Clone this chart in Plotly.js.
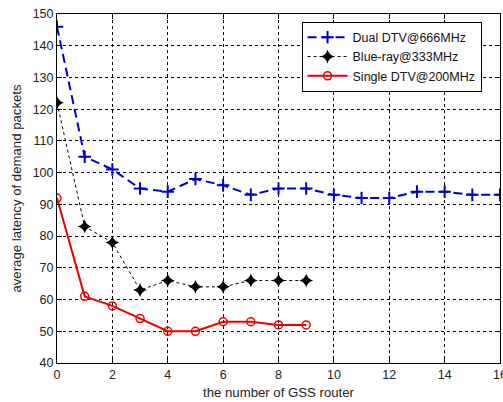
<!DOCTYPE html>
<html><head><meta charset="utf-8">
<script src="https://cdn.plot.ly/plotly-3.0.1.min.js"></script>
<style>html,body{margin:0;padding:0;background:#fff}#c{width:503px;height:402px}</style>
</head><body><div id="c"></div>
<script>
const xDual = [0,1,2,3,4,5,6,7,8,9,10,11,12,13,14,15,16];
const yDual = [146,105,101,95,94,98,96,93,95,95,93,92,92,94,94,93,93];
const xBlue = [0,1,2,3,4,5,6,7,8,9];
const yBlue = [122,83,78,63,66,64,64,66,66,66];
const xSingle = [0,1,2,3,4,5,6,7,8,9];
const ySingle = [92,61,58,54,50,50,53,53,52,52];
const names = ['Dual DTV@666MHz','Blue-ray@333MHz','Single DTV@200MHz'];
const xTicks = [0,2,4,6,8,10,12,14,16];
const yTicks = [40,50,60,70,80,90,100,110,120,130,140,150];

const traces = [
 {x:xDual,y:yDual,name:names[0],mode:'lines+markers',
  line:{color:'#0000cc',width:2,dash:'9px,5px'},
  marker:{symbol:'cross-thin-open',size:9,color:'#0000cc',line:{color:'#0000cc',width:2}}},
 {x:xBlue,y:yBlue,name:names[1],mode:'lines+markers',
  line:{color:'#000000',width:1,dash:'dot'},
  marker:{symbol:'star-diamond',size:10,color:'#000000'}},
 {x:xSingle,y:ySingle,name:names[2],mode:'lines+markers',
  line:{color:'#ee0000',width:2},
  marker:{symbol:'circle-open',size:8,color:'#ee0000',line:{color:'#ee0000',width:1.5}}}
];
const ax = {showline:true,linecolor:'#000',linewidth:1,mirror:'ticks',ticks:'inside',ticklen:5,tickcolor:'#000',
  showgrid:true,gridcolor:'#000',griddash:'dot',gridwidth:1,zeroline:false,automargin:false,
  ticklabeloverflow:'allow',
  tickfont:{family:'Liberation Sans, Arial, sans-serif',size:12.5,color:'#222'}};
const layout = {
 width:503,height:402,margin:{l:57,r:3,t:14,b:39},
 paper_bgcolor:'#fff',plot_bgcolor:'#fff',
 font:{family:'Liberation Sans, Arial, sans-serif',size:12,color:'#222'},
 xaxis:Object.assign({},ax,{range:[0,16],tickvals:xTicks,ticktext:xTicks.map(String),
   title:{text:'the number of GSS router',standoff:6,font:{size:13.2,color:'#222'}}}),
 yaxis:Object.assign({},ax,{range:[40,150],tickvals:yTicks,ticktext:yTicks.map(String),
   title:{text:'average latency of demand packets',standoff:8,font:{size:13.2,color:'#222'}}}),
 showlegend:true,
 legend:{x:0.552,y:0.978,xanchor:'left',yanchor:'top',bgcolor:'#fff',bordercolor:'#000',borderwidth:1,
   font:{size:12.5,color:'#111'},tracegroupgap:0,itemwidth:40}
};
Plotly.newPlot('c',traces,layout,{staticPlot:true,displayModeBar:false});
</script></body></html>
